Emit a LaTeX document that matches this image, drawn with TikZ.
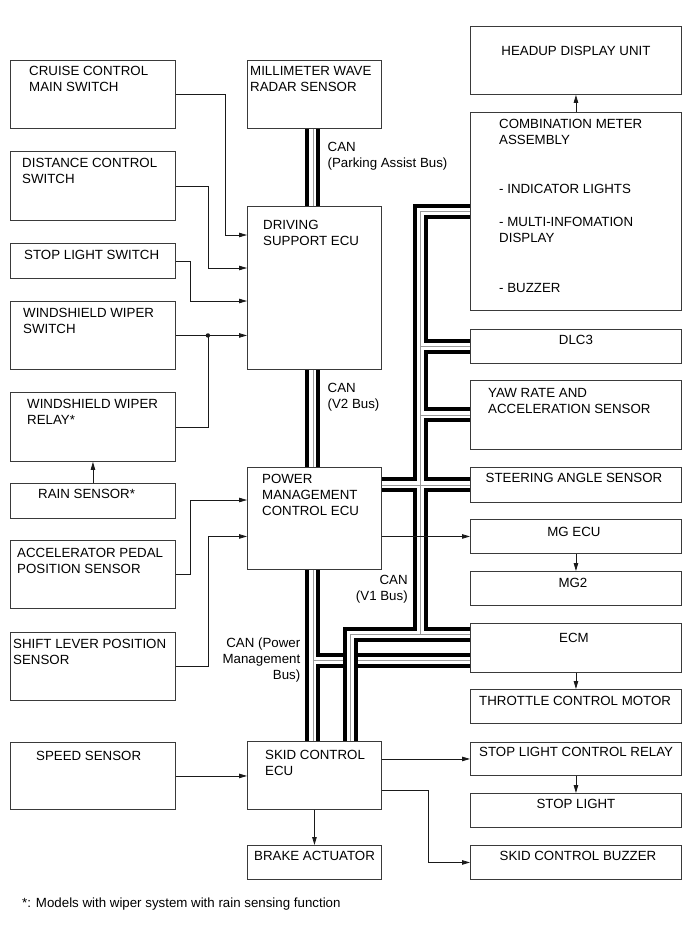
\documentclass[tikz,border=0pt]{standalone}
\usepackage{fontspec}
\setmainfont{Liberation Sans}
\usetikzlibrary{arrows.meta}
\definecolor{boxcol}{HTML}{3a3a3a}
\definecolor{wirecol}{HTML}{1a1a1a}
\definecolor{buscol}{HTML}{9a9a9a}
\pgfdeclarelayer{paper}
\pgfdeclarelayer{bus}
\pgfsetlayers{paper,bus,main}

\begin{document}
\begin{tikzpicture}[x=1pt, y=-1pt,
  box/.style={draw=boxcol, line width=0.9pt, inner sep=0pt, anchor=north west},
  lbox/.style={box, minimum width=165pt},
  mbox/.style={box, minimum width=134pt},
  rbox/.style={box, minimum width=211pt},
  txt/.style={inner sep=0pt, anchor=north west, align=left, font=\fontsize{13.3}{16}\selectfont},
  ctxt/.style={txt, anchor=north, align=center},
  wire/.style={draw=wirecol, line width=0.8pt},
  arr/.style={wire, -{Triangle[length=8pt,width=4.5pt]}},
  busouter/.style={line width=15pt, black},
  businner/.style={line width=7pt, white},
  busmid/.style={line width=0.8pt, buscol}]

\begin{pgfonlayer}{paper}
  \fill[white] (0,0) rectangle (691,952);
\end{pgfonlayer}
\useasboundingbox (0,0) rectangle (691,952);

% === LEFT: switches and sensors ===
\node[lbox, minimum height=68pt] (cruise) at (10,60) {};
\node[lbox, minimum height=69pt] (distance) at (10,151) {};
\node[lbox, minimum height=35pt] (stopsw) at (10,243) {};
\node[lbox, minimum height=68pt] (wipersw) at (10,301) {};
\node[lbox, minimum height=69pt] (relay) at (10,392) {};
\node[lbox, minimum height=35pt] (rain) at (10,483) {};
\node[lbox, minimum height=68pt] (accel) at (10,540) {};
\node[lbox, minimum height=68pt] (shift) at (10,632) {};
\node[lbox, minimum height=67pt] (speed) at (10,742) {};

\node[txt] (cruise-l) at ([shift={(19,6)}]cruise.north west) {CRUISE CONTROL\\MAIN SWITCH};
\node[txt] (distance-l) at ([shift={(12,7)}]distance.north west) {DISTANCE CONTROL\\SWITCH};
\node[txt] (stopsw-l) at ([shift={(14,7)}]stopsw.north west) {STOP LIGHT SWITCH};
\node[txt] (wipersw-l) at ([shift={(13,7)}]wipersw.north west) {WINDSHIELD WIPER\\SWITCH};
\node[txt] (relay-l) at ([shift={(17,7)}]relay.north west) {WINDSHIELD WIPER\\RELAY*};
\node[txt] (rain-l) at ([shift={(28,6)}]rain.north west) {RAIN SENSOR*};
\node[txt] (accel-l) at ([shift={(7,8)}]accel.north west) {ACCELERATOR PEDAL\\POSITION SENSOR};
\node[txt] (shift-l) at ([shift={(3,7)}]shift.north west) {SHIFT LEVER POSITION\\SENSOR};
\node[txt] (speed-l) at ([shift={(26,9)}]speed.north west) {SPEED SENSOR};

% === CENTER: ECUs ===
\node[mbox, minimum height=68pt] (radar) at (247,60) {};
\node[mbox, minimum height=163pt] (dsecu) at (247,206) {};
\node[mbox, minimum height=102pt] (pmecu) at (247,467) {};
\node[mbox, minimum height=68pt] (skid) at (247,741) {};
\node[mbox, minimum height=34pt] (brake) at (247,845) {};

\node[txt] (radar-l) at ([shift={(3,6)}]radar.north west) {MILLIMETER WAVE\\RADAR SENSOR};
\node[txt] (dsecu-l) at ([shift={(16,14)}]dsecu.north west) {DRIVING\\SUPPORT ECU};
\node[txt] (pmecu-l) at ([shift={(15,7)}]pmecu.north west) {POWER\\MANAGEMENT\\CONTROL ECU};
\node[txt] (skid-l) at ([shift={(18,9)}]skid.north west) {SKID CONTROL\\ECU};
\node[txt] (brake-l) at ([shift={(7,6)}]brake.north west) {BRAKE ACTUATOR};

% === RIGHT: receivers ===
\node[rbox, minimum height=68pt] (headup) at (470,26) {};
\node[rbox, minimum height=198pt] (combo) at (470,112) {};
\node[rbox, minimum height=34pt] (dlc3) at (470,329) {};
\node[rbox, minimum height=69pt] (yaw) at (470,380) {};
\node[rbox, minimum height=35pt] (steer) at (470,467) {};
\node[rbox, minimum height=34pt] (mgecu) at (470,519) {};
\node[rbox, minimum height=34pt] (mg2) at (470,571) {};
\node[rbox, minimum height=49pt] (ecm) at (470,623) {};
\node[rbox, minimum height=34pt] (throttle) at (470,689) {};
\node[rbox, minimum height=33pt] (slcr) at (470,742) {};
\node[rbox, minimum height=34pt] (stoplight) at (470,793) {};
\node[rbox, minimum height=34pt] (buzzer) at (470,845) {};

\node[ctxt] (headup-l) at ([shift={(0,20)}]headup.north) {HEADUP DISPLAY UNIT};
\node[txt] (combo-l) at ([shift={(29,7)}]combo.north west)
  {COMBINATION METER\\ASSEMBLY\\[33pt]- INDICATOR LIGHTS\\[17pt]- MULTI-INFOMATION\\DISPLAY\\[34pt]- BUZZER};
\node[ctxt] (dlc3-l) at ([shift={(0,6)}]dlc3.north) {DLC3};
\node[txt] (yaw-l) at ([shift={(18,8)}]yaw.north west) {YAW RATE AND\\ACCELERATION SENSOR};
\node[ctxt] (steer-l) at ([shift={(-2,6)}]steer.north) {STEERING ANGLE SENSOR};
\node[ctxt] (mgecu-l) at ([shift={(-2,8)}]mgecu.north) {MG ECU};
\node[ctxt] (mg2-l) at ([shift={(-3,7)}]mg2.north) {MG2};
\node[ctxt] (ecm-l) at ([shift={(-2,10)}]ecm.north) {ECM};
\node[txt] (throttle-l) at ([shift={(9,7)}]throttle.north west) {THROTTLE CONTROL MOTOR};
\node[txt] (slcr-l) at ([shift={(9,5)}]slcr.north west) {STOP LIGHT CONTROL RELAY};
\node[ctxt] (stoplight-l) at ([shift={(0,6)}]stoplight.north) {STOP LIGHT};
\node[ctxt] (buzzer-l) at ([shift={(2,6)}]buzzer.north) {SKID CONTROL BUZZER};

% === CAN labels ===
\node[txt] (can-pa) at ([shift={(13,13)}]radar.south) {CAN\\(Parking Assist Bus)};
\node[txt] (can-v2) at ([shift={(13,13)}]dsecu.south) {CAN\\(V2 Bus)};
\node[txt, anchor=north east, align=right] (can-pm) at ([shift={(-14,68)}]pmecu.south) {CAN (Power\\Management\\Bus)};
\node[txt, anchor=north east, align=right] (can-v1) at ([shift={(26,5)}]pmecu.south east) {CAN\\(V1 Bus)};

\node[txt] (note) at (22,898) {*: Models with wiper system with rain sensing function};

% bus end points
\coordinate (comboV1) at ([shift={(0,99)}]combo.north west);
\coordinate (tr) at ([shift={(-50,0)}]combo.north west);
\coordinate (ecmV1) at ([shift={(0,11)}]ecm.north west);
\coordinate (ecmPM) at ([shift={(0,37)}]ecm.north west);
\coordinate (skV1) at ([shift={(103,0)}]skid.north west);

% === CAN buses ===
\begin{pgfonlayer}{bus}
  % power management bus first, V1 crosses over it
  \foreach \sty in {busouter,businner,busmid}{
    \draw[\sty] ([xshift=-1.5pt]pmecu.south) -- ([xshift=-1.5pt]skid.north);
    \draw[\sty] ([xshift=-1.5pt]pmecu.south |- ecmPM) -- (ecmPM);
  }
  \foreach \sty in {busouter,businner,busmid}{
    \draw[\sty] (comboV1) -- (tr |- comboV1) -- (tr |- ecmV1);
    \draw[\sty] (tr |- dlc3.west) -- (dlc3.west);
    \draw[\sty] (tr |- yaw.west) -- (yaw.west);
    \draw[\sty] (pmecu.east |- steer.west) -- (steer.west);
    \draw[\sty] (ecmV1) -- (skV1 |- ecmV1) -- (skV1);
    \draw[\sty] ([xshift=-1.5pt]radar.south) -- ([xshift=-1.5pt]dsecu.north);
    \draw[\sty] ([xshift=-1.5pt]dsecu.south) -- ([xshift=-1.5pt]pmecu.north);
  }
\end{pgfonlayer}

% === signal lines ===
\coordinate (ds1) at ([shift={(0,29)}]dsecu.north west);
\coordinate (ds2) at ([shift={(0,62)}]dsecu.north west);
\coordinate (ds3) at ([shift={(0,95)}]dsecu.north west);
\coordinate (pm1) at ([shift={(0,33)}]pmecu.north west);
\coordinate (sk1) at ([shift={(0,15)}]skid.east);
\coordinate (jn) at ([shift={(32,0)}]wipersw.east);

\draw[arr] (cruise.east) -- ++(49,0) |- (ds1);
\draw[arr] (distance.east) -- ++(32,0) |- (ds2);
\draw[arr] (stopsw.east) -- ++(14,0) |- (ds3);
\draw[arr] (wipersw.east) -- (wipersw.east -| dsecu.west);
\draw[wire] (relay.east) -| (jn);
\fill[wirecol] (jn) circle[radius=2.2pt];
\draw[arr] (rain.north) -- (relay.south);
\draw[arr] (accel.east) -- ++(14,0) |- (pm1);
\draw[arr] (shift.east) -- ++(32,0) |- (pmecu.west |- mgecu.west);
\draw[arr] (pmecu.east |- mgecu.west) -- (mgecu.west);
\draw[arr] (mgecu.south) -- (mg2.north);
\draw[arr] (ecm.south) -- (throttle.north);
\draw[arr] (combo.north) -- (headup.south);
\draw[arr] (speed.east) -- (speed.east -| skid.west);
\draw[arr] (skid.east |- slcr.west) -- (slcr.west);
\draw[arr] (slcr.south) -- (stoplight.north);
\draw[arr] (skid.south) -- (brake.north);
\draw[arr] (sk1) -- ++(46,0) |- (buzzer.west);

\end{tikzpicture}
\end{document}
